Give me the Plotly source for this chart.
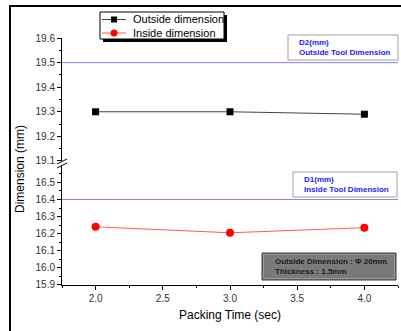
import plotly.graph_objects as go

# ---- data ----
packing_time = [2.0, 3.0, 4.0]
outside_dim = [19.30, 19.30, 19.29]
inside_dim = [16.24, 16.205, 16.235]
outside_tool = 19.5
inside_tool = 16.4
x_ticks = [2.0, 2.5, 3.0, 3.5, 4.0]
upper_ticks = [19.1, 19.2, 19.3, 19.4, 19.5, 19.6]
lower_ticks = [15.9, 16.0, 16.1, 16.2, 16.3, 16.4, 16.5]
series_names = ["Outside dimension", "Inside dimension"]

W, H = 401, 331
ML, MR, MT, MB = 62, 3, 38, 46
PW = W - ML - MR
PH = H - MT - MB


def xp(px):
    return (px - ML) / PW


def yp(py):
    return (H - MB - py) / PH


FONT = "Arial, Liberation Sans, sans-serif"
OUT_LINE, OUT_MARK = "#444444", "black"
IN_LINE, IN_MARK = "#ff5a5a", "#ff0000"

fig = go.Figure()
fig.add_trace(go.Scatter(
    x=packing_time, y=outside_dim, name=series_names[0], yaxis="y2",
    mode="lines+markers", line=dict(color=OUT_LINE, width=1),
    marker=dict(symbol="square", size=7, color=OUT_MARK)))
fig.add_trace(go.Scatter(
    x=packing_time, y=inside_dim, name=series_names[1], yaxis="y",
    mode="lines+markers", line=dict(color=IN_LINE, width=1),
    marker=dict(symbol="circle", size=8, color=IN_MARK)))

up_lo = yp(161)
lo_hi = yp(166)

axis_common = dict(
    showgrid=False, zeroline=False, showline=True, linecolor="black",
    linewidth=1, ticks="outside", ticklen=4, tickcolor="black",
    tickfont=dict(family=FONT, size=10, color="#333333"),
)

fig.update_layout(
    width=W, height=H,
    margin=dict(l=ML, r=MR, t=MT, b=MB),
    paper_bgcolor="white", plot_bgcolor="white",
    font=dict(family=FONT),
    showlegend=False,
    xaxis=dict(range=[1.75, 4.25], tickvals=x_ticks, ticktext=[f"{v:.1f}" for v in x_ticks],
               anchor="y", minor=dict(dtick=0.25, tick0=0, ticks="outside", ticklen=2, tickcolor="black"),
               **axis_common),
    yaxis=dict(domain=[0, lo_hi], range=[15.8995, 15.9 + (285 - 166) / 171.0],
               tickvals=lower_ticks, ticktext=[f"{v:.1f}" for v in lower_ticks],
               minor=dict(dtick=0.05, tick0=0, ticks="outside", ticklen=2, tickcolor="black"),
               anchor="x", **axis_common),
    yaxis2=dict(domain=[up_lo, 1], range=[19.0995, 19.6005],
                tickvals=upper_ticks, ticktext=[f"{v:.1f}" for v in upper_ticks],
                minor=dict(dtick=0.05, tick0=0, ticks="outside", ticklen=2, tickcolor="black"),
                anchor="x", **axis_common),
)


def rect(x0, y0, x1, y1, fill, line_color=None, lw=0, layer="above"):
    return dict(type="rect", xref="paper", yref="paper", x0=xp(x0), x1=xp(x1), y0=yp(y0), y1=yp(y1),
                fillcolor=fill, line=dict(color=line_color or fill, width=lw), layer=layer)


def seg(x0, y0, x1, y1, color, w=1):
    return dict(type="line", xref="paper", yref="paper", x0=xp(x0), x1=xp(x1), y0=yp(y0), y1=yp(y1),
                line=dict(color=color, width=w))


shapes = []
# outer frame
shapes.append(seg(9, 6, 402, 6, "black", 2))
shapes.append(seg(10, 5, 10, 335, "black", 2))
# tool dimension lines
shapes.append(dict(type="line", xref="paper", yref="y2", x0=0, x1=1, y0=outside_tool, y1=outside_tool,
                   line=dict(color="#8080ff", width=1)))
shapes.append(dict(type="line", xref="paper", yref="y", x0=0, x1=1, y0=inside_tool, y1=inside_tool,
                   line=dict(color="#8080ff", width=1)))
# legend box with shadow
shapes.append(rect(103, 15, 227, 42, "black"))
shapes.append(rect(100, 12, 224, 39, "white", "black", 1))
shapes.append(seg(102, 19.5, 126, 19.5, OUT_LINE))
shapes.append(rect(111, 16.5, 117, 22.5, OUT_MARK))
shapes.append(seg(102, 33, 126, 33, IN_LINE))
shapes.append(dict(type="circle", xref="paper", yref="paper", x0=xp(110.5), x1=xp(117.5),
                   y0=yp(29.5), y1=yp(36.5), fillcolor=IN_MARK, line=dict(color=IN_MARK, width=0)))
# annotation boxes
shapes.append(rect(288, 35, 398, 60, "white", "#a0a0a0", 1))
shapes.append(rect(293, 172, 397, 197, "white", "#a0a0a0", 1))
shapes.append(rect(262, 253, 396, 280, "#7a7a7a", "#3a3a3a", 1))
shapes.append(rect(263.5, 254.5, 394.5, 278.5, "rgba(0,0,0,0)", "#9a9a9a", 1))
# axis break marks
shapes.append(rect(60, 161.5, 64, 165.5, "white"))
shapes.append(seg(57, 164, 67, 159, "black"))
shapes.append(seg(57, 168, 67, 163, "black"))
fig.update_layout(shapes=shapes)

ann = []
ann.append(dict(xref="paper", yref="paper", x=xp(131), y=yp(19), xanchor="left", yanchor="middle",
                text=series_names[0], showarrow=False, font=dict(family=FONT, size=11, color="black")))
ann.append(dict(xref="paper", yref="paper", x=xp(131), y=yp(33), xanchor="left", yanchor="middle",
                text=series_names[1], showarrow=False, font=dict(family=FONT, size=11, color="black")))
ann.append(dict(xref="paper", yref="paper", x=xp(297), y=yp(47.5), xanchor="left", yanchor="middle",
                text="<b>D2(mm)<br>Outside Tool Dimension</b>", showarrow=False, align="left",
                font=dict(family=FONT, size=8, color="#1a1aff")))
ann.append(dict(xref="paper", yref="paper", x=xp(302), y=yp(184.5), xanchor="left", yanchor="middle",
                text="<b>D1(mm)<br>Inside Tool Dimension</b>", showarrow=False, align="left",
                font=dict(family=FONT, size=8, color="#1a1aff")))
ann.append(dict(xref="paper", yref="paper", x=xp(273), y=yp(266.5), xanchor="left", yanchor="middle",
                text="<b>Outside Dimension : Φ 20mm<br>Thickness : 1.5mm</b>", showarrow=False, align="left",
                font=dict(family=FONT, size=8, color="#1a1a1a")))
ann.append(dict(xref="paper", yref="paper", x=0.5, y=yp(315), xanchor="center", yanchor="middle",
                text="Packing Time (sec)", showarrow=False,
                font=dict(family=FONT, size=12, color="black")))
ann.append(dict(xref="paper", yref="paper", x=xp(20), y=yp(169), xanchor="center", yanchor="middle",
                text="Dimension (mm)", showarrow=False, textangle=-90,
                font=dict(family=FONT, size=12, color="black")))
fig.update_layout(annotations=ann)

fig.write_html("out.html")
